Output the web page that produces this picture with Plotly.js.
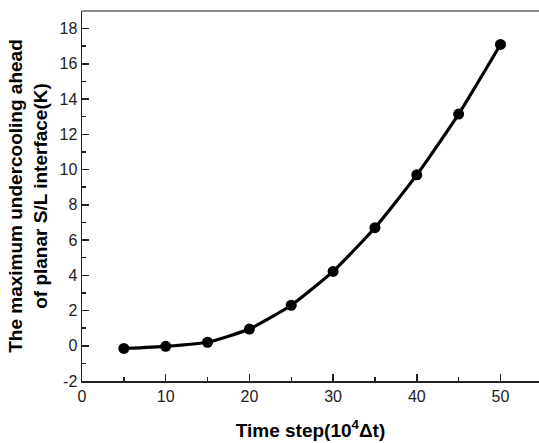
<!DOCTYPE html>
<html>
<head>
<meta charset="utf-8">
<script src="https://cdn.plot.ly/plotly-3.0.1.min.js"></script>
<style>html,body{margin:0;padding:0;background:#fff}#chart{width:539px;height:443px}</style>
</head>
<body>
<div id="chart"></div>
<script>
const timeSteps = [5, 10, 15, 20, 25, 30, 35, 40, 45, 50];
const undercooling = [-0.15, -0.03, 0.2, 0.95, 2.3, 4.22, 6.7, 9.7, 13.15, 17.1];
const xTickVals = [0, 10, 20, 30, 40, 50];
const yTickVals = [-2, 0, 2, 4, 6, 8, 10, 12, 14, 16, 18];

const font = 'Liberation Sans, Arial, sans-serif';
const trace = {
  x: timeSteps, y: undercooling, type: 'scatter', mode: 'lines+markers',
  line: {color: '#000', width: 3.2, shape: 'spline', smoothing: 0.5},
  marker: {color: '#000', size: 11}
};
const layout = {
  width: 539, height: 443,
  margin: {l: 82, r: 0, t: 11, b: 62},
  paper_bgcolor: '#fff', plot_bgcolor: '#fff',
  showlegend: false,
  font: {family: font, color: '#000'},
  xaxis: {
    range: [0, 54.6], showgrid: false, zeroline: false,
    showline: true, linecolor: '#222', linewidth: 1.5, mirror: false,
    tickmode: 'array', tickvals: xTickVals, ticktext: xTickVals.map(String),
    ticks: 'inside', ticklen: 7, tickwidth: 1.5, tickcolor: '#222',
    minor: {dtick: 5, ticks: 'inside', ticklen: 4, tickwidth: 1.5, tickcolor: '#222'},
    tickfont: {size: 16, family: font, color: '#222'},
    title: {text: '<b>Time step(10<sup>4</sup>Δt)</b>', font: {size: 19, family: font}, standoff: 20}
  },
  yaxis: {
    range: [-2, 19], showgrid: false, zeroline: false,
    showline: true, linecolor: '#222', linewidth: 1.5, mirror: false,
    tickmode: 'array', tickvals: yTickVals, ticktext: yTickVals.map(String),
    ticks: 'inside', ticklen: 7, tickwidth: 1.5, tickcolor: '#222',
    minor: {dtick: 1, ticks: 'inside', ticklen: 4, tickwidth: 1.5, tickcolor: '#222'},
    tickfont: {size: 16, family: font, color: '#222'},
    title: {text: '<b>The maximum undercooling ahead<br>of planar S/L interface(K)</b>', font: {size: 19, family: font}, standoff: 7}
  },
  shapes: [{type: 'line', xref: 'paper', yref: 'paper', x0: 0, x1: 1, y0: 1, y1: 1, line: {color: '#666', width: 1.5}}]
};
Plotly.newPlot('chart', [trace], layout, {displayModeBar: false, staticPlot: true});
</script>
</body>
</html>
